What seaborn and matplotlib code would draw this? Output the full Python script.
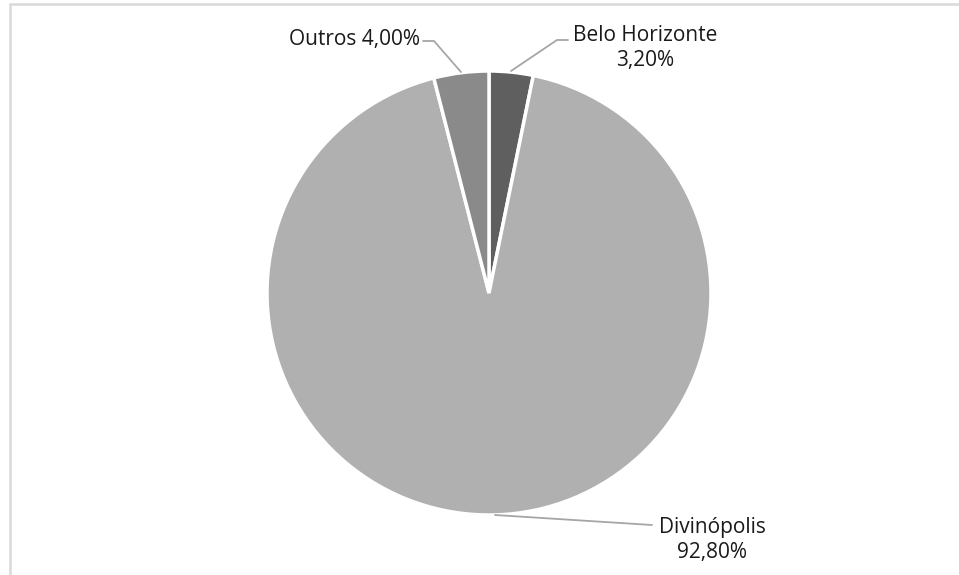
import matplotlib
matplotlib.use("Agg")
import matplotlib.pyplot as plt
import seaborn as sns
from matplotlib.lines import Line2D

sns.set_theme(style="white")
plt.rcParams['font.family'] = ['Open Sans', 'DejaVu Sans']

categories = ["Belo Horizonte", "Divinópolis", "Outros"]
values = [3.20, 92.80, 4.00]
value_labels = ["3,20%", "92,80%", "4,00%"]
colors = ["#5f5f5f", "#b0b0b0", "#8a8a8a"]

W, H = 959, 575
fig = plt.figure(figsize=(W / 100, H / 100), dpi=100)
cx, cy, r = 489, 293, 222
ax = fig.add_axes([(cx - r) / W, (H - cy - r) / H, 2 * r / W, 2 * r / H])

wedges, _ = ax.pie(values, colors=colors, startangle=90, counterclock=False, radius=1,
                   wedgeprops=dict(edgecolor='white', linewidth=2.5))
ax.set_xlim(-1, 1)
ax.set_ylim(-1, 1)
ax.set_aspect('equal')
ax.axis('off')

def d(px, py):
    return ((px - cx) / r, (cy - py) / r)

lc = "#a6a6a6"
fs = 15
tc = '#1a1a1a'
# Belo Horizonte
pts = [d(511, 71), d(557, 40), d(568, 40)]
ax.add_line(Line2D([p[0] for p in pts], [p[1] for p in pts], color=lc, lw=1.3, clip_on=False))
tx, ty = d(645, 48)
ax.text(tx, ty, f"{categories[0]}\n{value_labels[0]}", ha='center', va='center', fontsize=fs,
        color=tc, linespacing=1.3, clip_on=False)
# Outros
pts = [d(461, 72), d(434, 41), d(423, 41)]
ax.add_line(Line2D([p[0] for p in pts], [p[1] for p in pts], color=lc, lw=1.3, clip_on=False))
tx, ty = d(420, 40)
ax.text(tx, ty, f"{categories[2]} {value_labels[2]}", ha='right', va='center', fontsize=fs,
        color=tc, clip_on=False)
# Divinópolis
pts = [d(495, 515), d(652, 525)]
ax.add_line(Line2D([p[0] for p in pts], [p[1] for p in pts], color=lc, lw=1.3, clip_on=False))
tx, ty = d(712, 540)
ax.text(tx, ty, f"{categories[1]}\n{value_labels[1]}", ha='center', va='center', fontsize=fs,
        color=tc, linespacing=1.3, clip_on=False)

# outer frame (left and top edges visible)
fig.add_artist(Line2D([9.5 / W, 9.5 / W], [0, 1 - 4 / H], color='#d9d9d9', lw=1.8, transform=fig.transFigure))
fig.add_artist(Line2D([9.5 / W, 1], [1 - 4 / H, 1 - 4 / H], color='#d9d9d9', lw=1.8, transform=fig.transFigure))

fig.savefig("out.png", dpi=100, facecolor='white')
